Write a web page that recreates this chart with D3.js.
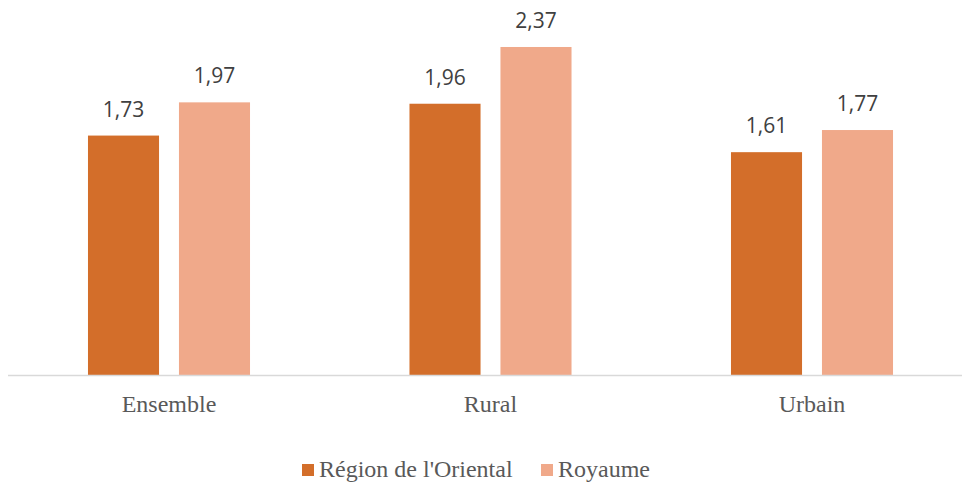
<!DOCTYPE html>
<html>
<head>
<meta charset="utf-8">
<script src="https://cdn.jsdelivr.net/npm/d3@7"></script>
<style>
  body { margin: 0; background: #fff; }
  svg { display: block; }
  .serif { font-family: "Liberation Serif", "Times New Roman", Tinos, "DejaVu Serif", serif; }
</style>
</head>
<body>
<div id="chart"></div>
<script>
const categories = ['Ensemble', 'Rural', 'Urbain'];
const seriesNames = ["Région de l'Oriental", 'Royaume'];
const oriental = [1.73, 1.96, 1.61];
const royaume = [1.97, 2.37, 1.77];

const colors = ['#D36E2A', '#F0A98A'];

const W = 963, H = 485;
const baseY = 375;

const svg = d3.select('#chart').append('svg')
  .attr('width', W).attr('height', H);

const data = categories.map((c, i) => ({ cat: c, values: [oriental[i], royaume[i]] }));

const x0 = d3.scaleBand().domain(categories)
  .range([8.25, 972.75]).paddingInner(0.496).paddingOuter(0.248);
const x1 = d3.scaleBand().domain(seriesNames)
  .range([0, x0.bandwidth()]).paddingInner(0.219);
const y = d3.scaleLinear().domain([0, 2.5]).range([baseY, baseY - 2.5 * 138.4]);

const groups = svg.selectAll('.grp').data(data).enter().append('g')
  .attr('class', 'grp')
  .attr('transform', d => 'translate(' + x0(d.cat) + ',0)');

groups.selectAll('rect').data(d => d.values.map((v, j) => ({ s: seriesNames[j], v: v, j: j })))
  .enter().append('rect')
    .attr('x', d => x1(d.s))
    .attr('y', d => y(d.v))
    .attr('width', x1.bandwidth())
    .attr('height', d => baseY - y(d.v))
    .attr('fill', d => colors[d.j]);

groups.selectAll('.val').data(d => d.values.map((v, j) => ({ s: seriesNames[j], v: v })))
  .enter().append('text')
    .attr('class', 'val')
    .attr('x', d => x1(d.s) + x1.bandwidth() / 2)
    .attr('y', d => y(d.v) - 19)
    .attr('text-anchor', 'middle')
    .style('font-family', '"Open Sans", sans-serif')
    .style('font-size', '21px')
    .attr('fill', '#404040')
    .text(d => d3.format('.2f')(d.v).replace('.', ','));

// axis line
svg.append('line')
  .attr('x1', 8).attr('x2', 962)
  .attr('y1', baseY + 0.5).attr('y2', baseY + 0.5)
  .attr('stroke', '#D9D9D9').attr('stroke-width', 1.5);

const xAxis = d3.axisBottom(x0).tickSize(0).tickPadding(0);
const ax = svg.append('g').attr('transform', 'translate(0,' + baseY + ')').call(xAxis);
ax.select('.domain').remove();
ax.attr('font-family', null).attr('font-size', null);
ax.selectAll('text')
  .attr('class', 'serif')
  .attr('y', 37).attr('dy', 0)
  .style('font-size', '24px')
  .attr('fill', '#595959');

// legend
const legend = svg.append('g');
const legX = [302, 541];
seriesNames.forEach((s, i) => {
  legend.append('rect')
    .attr('x', legX[i]).attr('y', 464)
    .attr('width', 12).attr('height', 12)
    .attr('fill', colors[i]);
  legend.append('text')
    .attr('class', 'serif')
    .attr('x', legX[i] + 17).attr('y', 477)
    .style('font-size', '24px')
    .attr('fill', '#595959')
    .text(s);
});
</script>
</body>
</html>
